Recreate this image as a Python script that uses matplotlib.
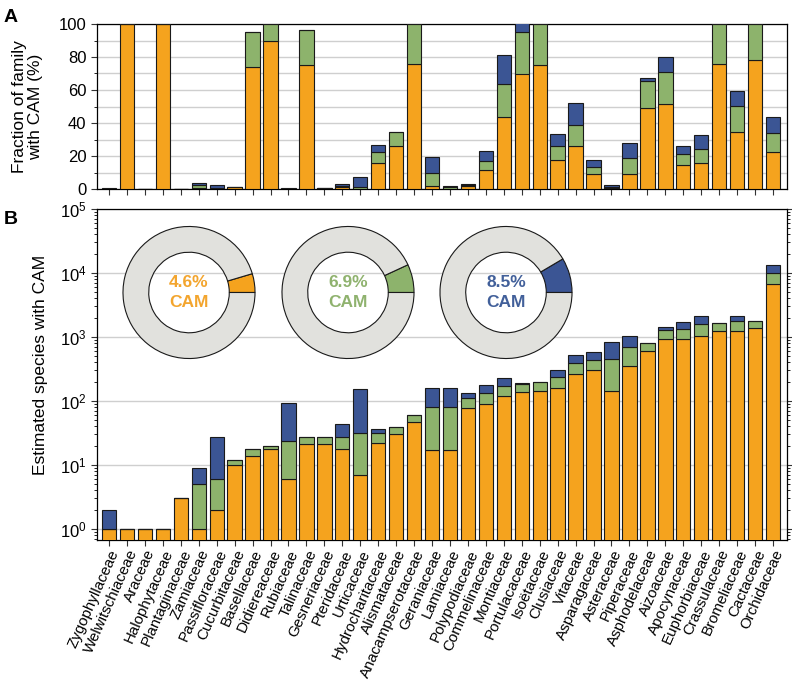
import matplotlib
matplotlib.use('Agg')

from matplotlib import pyplot as plt
from matplotlib.ticker import MultipleLocator, LogLocator, NullFormatter
import numpy as np

plt.rcParams['font.family'] = ['Liberation Sans', 'DejaVu Sans']

families = ['Zygophyllaceae', 'Welwitschiaceae', 'Araceae', 'Halophytaceae',
            'Plantaginaceae', 'Zamiaceae', 'Passifloraceae', 'Cucurbitaceae',
            'Basellaceae', 'Didiereaceae', 'Rubiaceae', 'Talinaceae',
            'Gesneriaceae', 'Pteridaceae', 'Urticaceae', 'Hydrocharitaceae',
            'Alismataceae', 'Anacampserotaceae', 'Geraniaceae', 'Lamiaceae',
            'Polypodiaceae', 'Commelinaceae', 'Montiaceae', 'Portulacaceae',
            'Isoëtaceae', 'Clusiaceae', 'Vitaceae', 'Asparagaceae',
            'Asteraceae', 'Piperaceae', 'Asphodelaceae', 'Aizoaceae',
            'Apocynaceae', 'Euphorbiaceae', 'Crassulaceae', 'Bromeliaceae',
            'Cactaceae', 'Orchidaceae']

# panel A: fraction of family (%), stacked segments
frac_orange = [0.2, 100, 0.1, 100, 0.1, 0.4, 0.2, 1.0, 74, 90,
               0.05, 75, 0.5, 1.2, 0.3, 16, 26.3, 75.8, 2, 0.2,
               2.0, 11.5, 43.8, 70, 75.2, 17.6, 26.3, 9.3, 0.4, 9.3,
               49.1, 51.7, 14.5, 16, 75.8, 34.5, 78.2, 22.4]
frac_green = [0, 0, 0, 0, 0, 1.8, 0.4, 0.2, 21, 10,
              0.13, 21.5, 0.15, 0.6, 1.2, 6.6, 8, 24.2, 7.7, 0.8,
              0.7, 5.7, 19.8, 25, 24.8, 8.7, 12.5, 4, 0.9, 9.3,
              16.6, 19.2, 6.7, 8, 24.2, 15.6, 21.8, 11.5]
frac_blue = [0.3, 0, 0, 0, 0, 1.6, 1.8, 0, 0, 0,
             0.52, 0, 0, 1.2, 5.8, 3.9, 0, 0, 9.5, 1.0,
             0.5, 6, 17.8, 6, 0, 7, 13.1, 4.1, 1.1, 9.1,
             1.6, 9.1, 5.1, 8.7, 0, 9.5, 0, 9.9]

# panel B: estimated species with CAM, stacked segments
sp_orange = [1, 1, 1, 1, 3, 1, 2, 10, 14, 18,
             6, 21, 21, 18, 7, 22, 30, 47, 17, 17,
             77, 88, 121, 137, 144, 162, 264, 305, 144, 353,
             601, 930, 941, 1050, 1245, 1245, 1403, 6800]
sp_green = [0, 0, 0, 0, 0, 4, 4, 2, 4, 2,
            18, 6, 6, 9, 24, 9, 9, 14, 62, 62,
            33, 43, 52, 46, 51, 77, 129, 139, 311, 351,
            203, 344, 414, 517, 380, 523, 387, 3200]
sp_blue = [1, 0, 0, 0, 0, 4, 21, 0, 0, 0,
           68, 0, 0, 17, 122, 5, 0, 0, 78, 83,
           25, 44, 52, 9, 0, 66, 133, 143, 389, 346,
           0, 164, 328, 579, 0, 352, 0, 3200]

pie_pcts = [4.6, 6.9, 8.5]

c_orange = '#f5a31e'
c_green = '#8db36c'
c_blue = '#3b5594'
c_gray = '#e1e1dd'
c_text = ['#f3a52e', '#8fb26e', '#42609a']
edge = '#1a1a1a'

W, H = 792, 686
fig = plt.figure(figsize=(W / 100, H / 100), dpi=100)

def px_axes(l, t, r, b):
    return fig.add_axes([l / W, (H - b) / H, (r - l) / W, (b - t) / H])

x = np.arange(len(families))
fo, fg, fb = np.array(frac_orange), np.array(frac_green), np.array(frac_blue)
so, sg, sb = np.array(sp_orange), np.array(sp_green), np.array(sp_blue)

# ---- panel A
axA = px_axes(97, 24, 787, 189)
axA.bar(x, fo, 0.8, color=c_orange, edgecolor=edge, lw=0.8, zorder=3)
axA.bar(x, fg, 0.8, bottom=fo, color=c_green, edgecolor=edge, lw=0.8, zorder=3)
axA.bar(x, fb, 0.8, bottom=fo + fg, color=c_blue, edgecolor=edge, lw=0.8, zorder=3)
axA.set_xlim(-0.67, len(families) - 0.22)
axA.set_ylim(0, 100)
axA.yaxis.set_major_locator(MultipleLocator(20))
axA.yaxis.set_minor_locator(MultipleLocator(10))
axA.grid(axis='y', which='both', color='#cfcfcf', lw=1.0, zorder=0)
axA.set_xticks(x)
axA.set_xticklabels([])
axA.tick_params(axis='both', direction='out', labelsize=12, length=4, width=0.8, color='#333333')
axA.tick_params(axis='y', which='minor', length=2.5)
axA.set_ylabel('Fraction of family\nwith CAM (%)', fontsize=12.5, linespacing=1.1)
axA.yaxis.set_label_coords(-0.078, 0.5)
for s in axA.spines.values():
    s.set_linewidth(0.9)

# ---- panel B
axB = px_axes(97, 209, 787, 540)
axB.set_yscale('log')
axB.bar(x, so, 0.8, color=c_orange, edgecolor=edge, lw=0.8, zorder=3)
axB.bar(x, sg, 0.8, bottom=so, color=c_green, edgecolor=edge, lw=0.8, zorder=3)
axB.bar(x, sb, 0.8, bottom=so + sg, color=c_blue, edgecolor=edge, lw=0.8, zorder=3)
axB.set_xlim(-0.67, len(families) - 0.22)
axB.set_ylim(0.67, 1e5)
axB.yaxis.set_major_locator(LogLocator(base=10, numticks=10))
axB.yaxis.set_minor_locator(LogLocator(base=10, subs=np.arange(2, 10), numticks=10))
axB.yaxis.set_minor_formatter(NullFormatter())
axB.grid(axis='y', which='major', color='#cfcfcf', lw=1.0, zorder=0)
axB.set_xticks(x)
axB.set_xticklabels(families, rotation=66, ha='right', rotation_mode='anchor', fontsize=10.9)
axB.tick_params(axis='both', direction='out', labelsize=12, length=4, width=0.8, color='#333333')
axB.tick_params(axis='x', labelsize=10.9, pad=1.5)
axB.tick_params(axis='y', which='both', right=True)
axB.tick_params(axis='y', which='minor', length=2.5)
axB.set_ylabel('Estimated species with CAM', fontsize=12.5)
axB.yaxis.set_label_coords(-0.071, 0.53)
for s in axB.spines.values():
    s.set_linewidth(0.9)

# ---- donuts
centers = [189, 348, 506]
wedge_cols = [c_orange, c_green, c_blue]
r = 66
for cx, pct, wc, tc in zip(centers, pie_pcts, wedge_cols, c_text):
    cy = 292.5
    axp = px_axes(cx - r - 2, cy - r - 2, cx + r + 2, cy + r + 2)
    axp.pie([pct, 100 - pct], colors=[wc, c_gray], startangle=0, counterclock=True,
            radius=1, wedgeprops=dict(width=0.39, edgecolor=edge, linewidth=0.8))
    axp.set_xlim(-1.03, 1.03)
    axp.set_ylim(-1.03, 1.03)
    axp.text(0, 0, '%.1f%%\nCAM' % pct, ha='center', va='center', color=tc,
             fontsize=12.5, fontweight='bold', linespacing=1.35)

fig.text(4 / W, 1 - 17 / H, 'A', fontsize=14, fontweight='bold', va='center')
fig.text(4 / W, 1 - 219 / H, 'B', fontsize=14, fontweight='bold', va='center')

fig.savefig('out.png', dpi=100)
